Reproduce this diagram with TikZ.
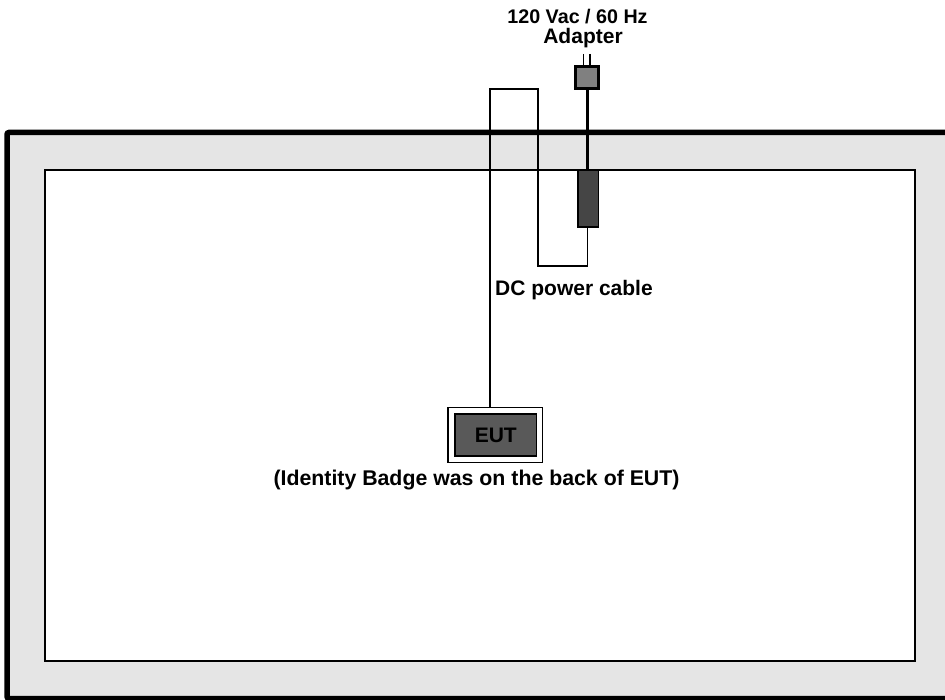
\documentclass[tikz,border=0pt]{standalone}
\usepackage{fontspec}
\setmainfont{Liberation Sans}
\begin{document}
\begin{tikzpicture}[x=1pt,y=-1pt,
  box/.style={draw=black,rectangle,minimum width=#1,inner sep=0pt,outer sep=0pt},
  lbl/.style={font=\fontsize{21}{21}\selectfont\bfseries,inner sep=0pt,text=black,align=center},
  wire/.style={draw=black,line width=1.2pt},
  cord/.style={draw=black,line width=3pt}]
\useasboundingbox (0,0) rectangle (945,700);
\path[clip] (0,0) rectangle (945,700);
% chamber
\draw[draw=black,fill=black!10,line width=5.5pt,rounded corners=2pt] (7,132.5) -- (960,132.5) -- (960,698.5) -- (7,698.5) -- cycle;
\node[box=870pt,fill=white,line width=1.1pt,minimum height=491pt] (room) at (480,415.5) {};
% EUT
\node[box=94.5pt,fill=white,line width=1.2pt,minimum height=55pt] (eutouter) at (495.3,435.2) {};
\node[box=81.5pt,fill=black!65,line width=1.5pt,minimum height=42pt] (eut) at (495.8,435) {};
\node[lbl] at (eut.center) {EUT};
% adapter and ferrite
\node[box=23pt,fill=black!50,line width=2.6pt,minimum height=22pt] (plug) at (586.8,77.5) {};
\node[box=20.5pt,fill=black!73,line width=1.5pt,minimum height=56.5pt] (block) at (588.2,198.8) {};
% connectors
\coordinate (pa) at (583.5,54);
\coordinate (pb) at (590,54);
\coordinate (c1) at (490,89);
\coordinate (c2) at (538,89);
\coordinate (c3) at (538,266);
\coordinate (c4) at (587.5,266);
\draw[wire,line width=1.8pt] (pa) -- (pa |- plug.north);
\draw[wire,line width=1.8pt] (pb) -- (pb |- plug.north);
\draw[cord] (587,88.5) -- (587,170);
\draw[wire] (eutouter.north -| c1) -- (c1) -- (c2) -- (c3) -- (c4) -- (block.south -| c4);
% labels
\node[lbl,font=\fontsize{19.7}{19.7}\selectfont\bfseries] (l1) at (577.5,17) {120 Vac / 60 Hz};
\node[lbl] (l2) at (583,38.5) {Adapter};
\node[lbl] (l3) at (574,290.5) {DC power cable};
\node[lbl,font=\fontsize{21.3}{21.3}\selectfont\bfseries] (l4) at (476.5,480.5) {(Identity Badge was on the back of EUT)};
\end{tikzpicture}
\end{document}
